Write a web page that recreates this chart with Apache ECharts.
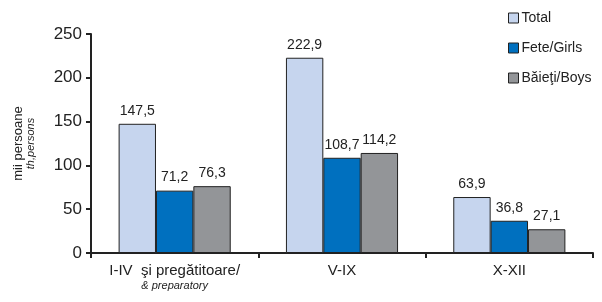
<!DOCTYPE html>
<html>
<head>
<meta charset="utf-8">
<script src="https://cdn.jsdelivr.net/npm/echarts@6/dist/echarts.min.js"></script>
<style>
    html, body { margin: 0; padding: 0; background: #fff; }
    #main { width: 602px; height: 302px; }
</style>
</head>
<body>
<div id="main"></div>
<script type="text/javascript">
    // categorii / categories
    const categories = ['I-IV  şi pregătitoare/\n{it|& preparatory}', 'V-IX', 'X-XII'];
    const seriesNames = ['Total', 'Fete/Girls', 'Băieţi/Boys'];
    const totalData = [147.5, 222.9, 63.9];
    const girlsData = [71.2, 108.7, 36.8];
    const boysData = [76.3, 114.2, 27.1];
    const colors = ['#c6d5ee', '#0070bf', '#939598'];

    let myChart = echarts.init(document.getElementById('main'));

    function makeSeries(name, data, color) {
        return {
            name: name,
            type: 'bar',
            data: data,
            barGap: '0%',
            barCategoryGap: '33%',
            itemStyle: { color: color, borderColor: '#222', borderWidth: 1 },
            label: {
                show: true,
                position: 'top',
                distance: 6,
                color: '#222',
                fontFamily: 'Liberation Sans',
                fontSize: 14,
                formatter: function (p) { return p.value.toFixed(1).replace('.', ','); }
            }
        };
    }

    let option = {
        animation: false,
        textStyle: { fontFamily: 'Liberation Sans' },
        grid: { left: 91, right: 9, top: 34, bottom: 49 },
        legend: {
            orient: 'vertical',
            left: 503,
            top: 6,
            itemWidth: 10,
            itemHeight: 10,
            itemGap: 16,
            icon: 'rect',
            data: seriesNames.map(function (n, i) {
                return { name: n, itemStyle: { color: colors[i], borderColor: '#222', borderWidth: 1 } };
            }),
            textStyle: { fontSize: 14, color: '#222', fontFamily: 'Liberation Sans', padding: [0, 0, 0, -2] }
        },
        xAxis: {
            type: 'category',
            data: categories,
            axisLine: { lineStyle: { color: '#222', width: 2 } },
            axisTick: { show: true, length: 5, lineStyle: { color: '#222', width: 2 } },
            axisLabel: {
                interval: 0,
                color: '#222',
                fontSize: 15,
                margin: 9,
                lineHeight: 17,
                rich: { it: { fontSize: 11, fontStyle: 'italic', color: '#222', lineHeight: 14 } }
            }
        },
        yAxis: {
            type: 'value',
            min: 0,
            max: 250,
            interval: 50,
            name: '{a|mii persoane}\n{b|th,persons}',
            nameLocation: 'middle',
            nameGap: 54,
            nameRotate: 90,
            nameTextStyle: {
                rich: {
                    a: { fontSize: 13, color: '#222', lineHeight: 14 },
                    b: { fontSize: 11, fontStyle: 'italic', color: '#222', lineHeight: 12 }
                }
            },
            splitLine: { show: false },
            axisLine: { show: true, lineStyle: { color: '#222', width: 2 } },
            axisTick: { show: true, length: 5, lineStyle: { color: '#222', width: 2 } },
            axisLabel: { color: '#222', fontSize: 17, margin: 9 }
        },
        series: [
            makeSeries(seriesNames[0], totalData, colors[0]),
            makeSeries(seriesNames[1], girlsData, colors[1]),
            makeSeries(seriesNames[2], boysData, colors[2])
        ]
    };
    myChart.setOption(option);
</script>
</body>
</html>
